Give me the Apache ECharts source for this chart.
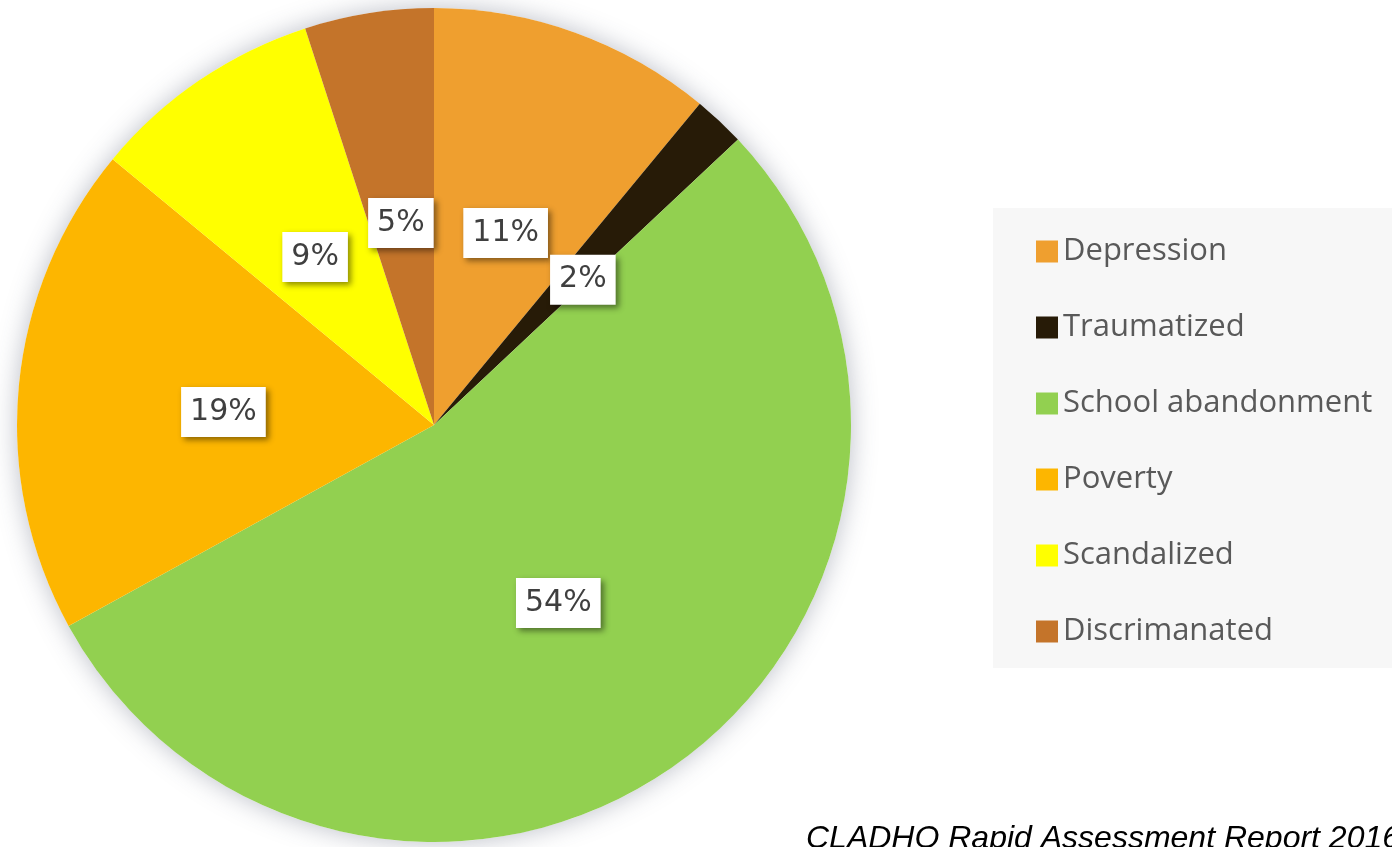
<!DOCTYPE html>
<html>
<head>
<meta charset="utf-8">
<script src="https://cdn.jsdelivr.net/npm/echarts@6/dist/echarts.min.js"></script>
<style>
html,body{margin:0;padding:0;background:#fff;}
#chart{width:1392px;height:847px;}
</style>
</head>
<body>
<div id="chart"></div>
<script>
const categories = ['Depression', 'Traumatized', 'School abandonment', 'Poverty', 'Scandalized', 'Discrimanated'];
const legendLabels = ['Depression', 'Traumatized', 'School abandonment', 'Poverty', 'Scandalized', 'Discrimanated'];
const values = [11, 2, 54, 19, 9, 5];
const colors = ['#EF9F2F', '#271B07', '#92D050', '#FDB600', '#FFFF00', '#C4742A'];
const sourceText = 'CLADHO Rapid Assessment Report 2016';

const chart = echarts.init(document.getElementById('chart'), null, {renderer: 'canvas'});
const data = categories.map((c, i) => {
  const d = {name: c, value: values[i], itemStyle: {color: colors[i]}};
  if (i === 1) {
    // thin sector: place its label just beside it (inside labels that overflow are hidden)
    d.label = {position: 'outside', distanceToLabelLine: 5};
    d.labelLine = {show: false, length: -208, length2: -32};
  }
  return d;
});

chart.setOption({
  animation: false,
  backgroundColor: '#ffffff',
  graphic: [
    {type: 'rect', shape: {x: 993, y: 208, width: 400, height: 460}, style: {fill: '#F7F7F7'}, z: -1},
    {type: 'text', x: 806, y: 823, style: {text: sourceText, font: 'italic 32px "Liberation Sans", Arial, sans-serif', fill: '#000', verticalAlign: 'top'}}
  ],
  legend: {
    orient: 'vertical',
    left: 1031,
    top: 231,
    itemWidth: 22,
    itemHeight: 22,
    itemGap: 45,
    icon: 'rect',
    data: categories,
    formatter: function (n) { return legendLabels[categories.indexOf(n)]; },
    textStyle: {fontFamily: '"Open Sans", sans-serif', fontSize: 31, color: '#595959', lineHeight: 22, padding: [0, 0, 0, 0]}
  },
  series: [
    {
      type: 'pie',
      silent: true,
      center: [434, 425],
      radius: 417,
      label: {show: false},
      labelLine: {show: false},
      itemStyle: {color: '#ffffff', shadowBlur: 26, shadowColor: 'rgba(60,70,95,0.35)', shadowOffsetX: 0, shadowOffsetY: 0},
      data: [{name: '_bg', value: 1}]
    },
    {
      type: 'pie',
      center: [434, 425],
      radius: 417,
      startAngle: 90,
      clockwise: true,
      avoidLabelOverlap: false,
      itemStyle: {borderWidth: 0},
      label: {
        show: true,
        position: 'inside',
        formatter: '{c}%',
        offset: [0, 7],
        fontFamily: '"DejaVu Sans", sans-serif',
        fontSize: 30,
        lineHeight: 36,
        color: '#3F3F3F',
        backgroundColor: '#ffffff',
        padding: [7, 9, 7, 9],
        shadowBlur: 6,
        shadowColor: 'rgba(0,0,0,0.45)',
        shadowOffsetX: 3,
        shadowOffsetY: 3
      },
      labelLine: {show: false},
      data: data
    }
  ]
});
</script>
</body>
</html>
